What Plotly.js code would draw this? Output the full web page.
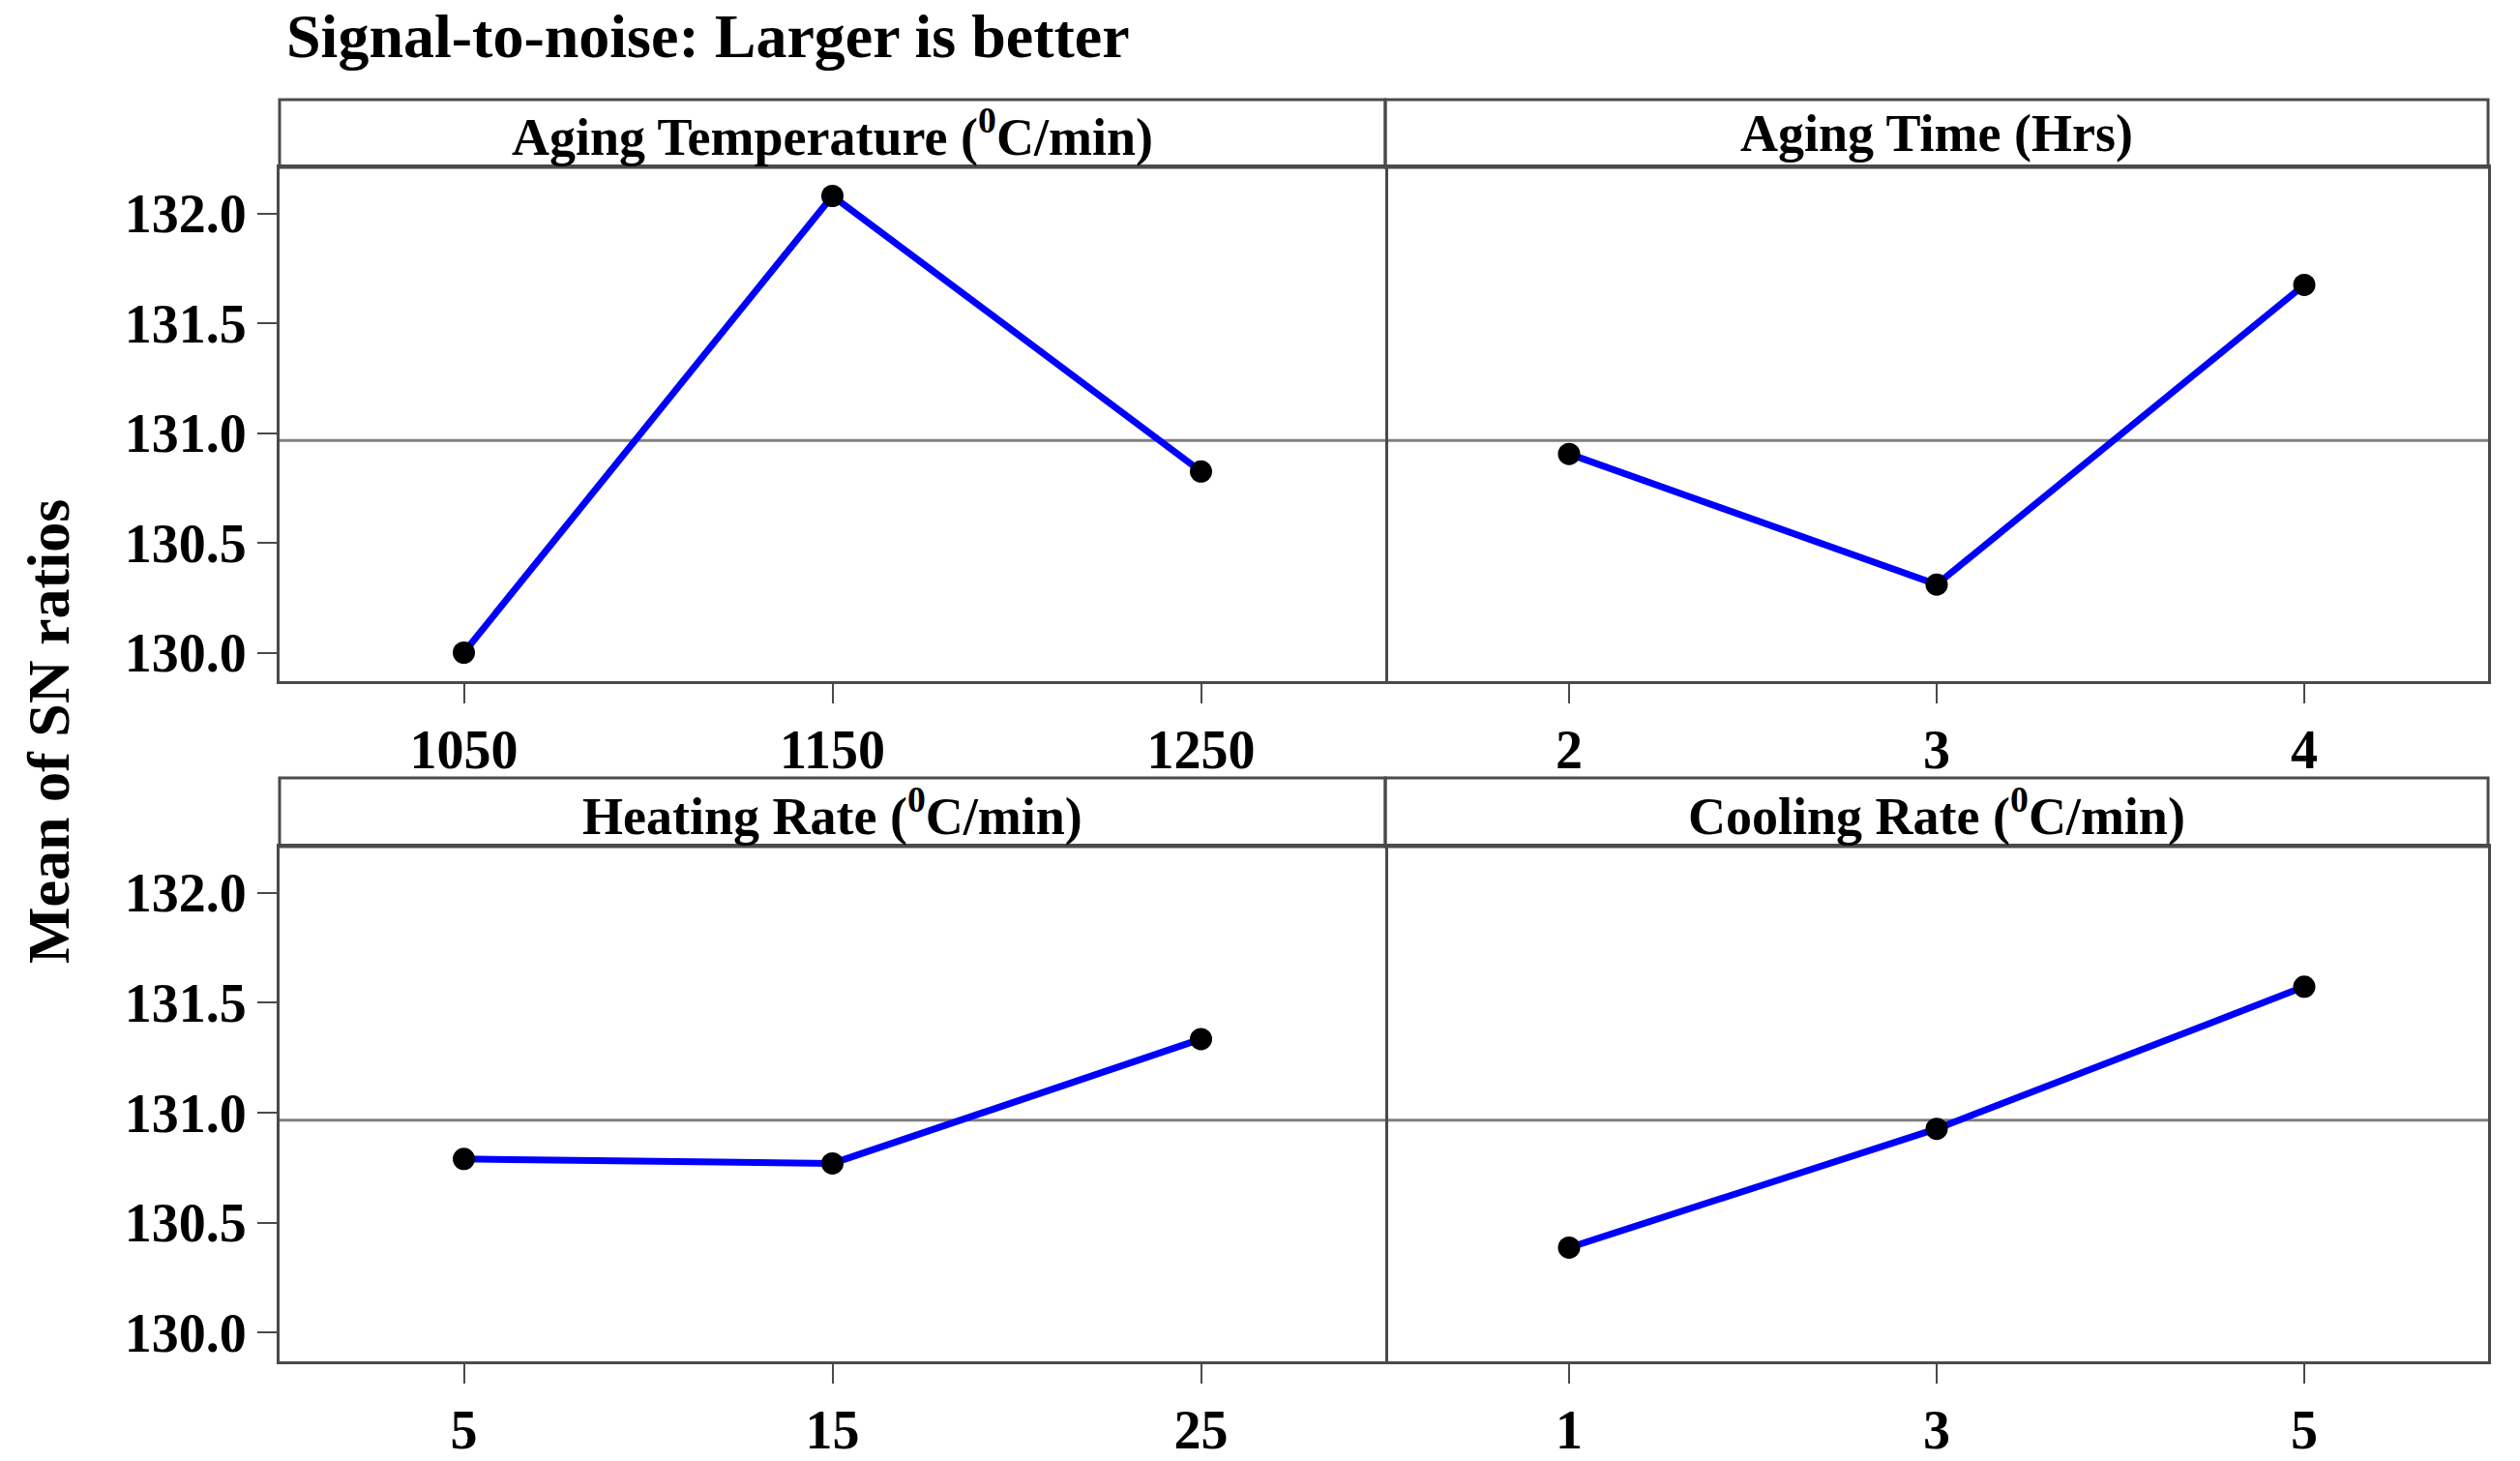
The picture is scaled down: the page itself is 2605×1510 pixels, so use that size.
<!DOCTYPE html>
<html>
<head>
<meta charset="utf-8">
<script src="https://cdn.plot.ly/plotly-3.0.1.min.js"></script>
<style>html,body{margin:0;padding:0;background:#fff;}#chart{width:2605px;height:1510px;}</style>
</head>
<body>
<div id="chart"></div>
<script>
// ---- data ----
var panelTitles = ['Aging Temperature (<sup>0</sup>C/min)', 'Aging Time (Hrs)', 'Heating Rate (<sup>0</sup>C/min)', 'Cooling Rate (<sup>0</sup>C/min)'];
var agingTempLevels = ['1050', '1150', '1250'];
var agingTempSN = [130.00, 132.08, 130.825];
var agingTimeLevels = ['2', '3', '4'];
var agingTimeSN = [130.905, 130.31, 131.675];
var heatingRateLevels = ['5', '15', '25'];
var heatingRateSN = [130.79, 130.77, 131.335];
var coolingRateLevels = ['1', '3', '5'];
var coolingRateSN = [130.387, 130.927, 131.573];
var grandMeanSN = 130.966;
var yTickVals = [130.0, 130.5, 131.0, 131.5, 132.0];
var chartTitle = 'Signal-to-noise: Larger is better';
var yTitle = 'Mean of SN ratios';

// ---- layout ----
var W = 2605, H = 1510;
var FONT = 'Liberation Serif, Times New Roman, serif';
function px(x) { return x / W; }
function py(y) { return 1 - y / H; }

var colL = [px(289), px(1432)], colR = [px(1432), px(2572)];
var rowT = [py(704), py(173)], rowB = [py(1407), py(875)];
var stripT = [py(173), py(103)], stripB = [py(875), py(804)];

var levels = [agingTempLevels, agingTimeLevels, heatingRateLevels, coolingRateLevels];
var values = [agingTempSN, agingTimeSN, heatingRateSN, coolingRateSN];
var xDomains = [colL, colR, colL, colR];
var yDomains = [rowT, rowT, rowB, rowB];
var sDomains = [stripT, stripT, stripB, stripB];

var traces = [];
var layout = {
  width: W, height: H,
  margin: {l: 0, r: 0, t: 0, b: 0},
  paper_bgcolor: '#ffffff', plot_bgcolor: '#ffffff',
  showlegend: false,
  font: {family: FONT, color: '#000', size: 56},
  title: {text: '<b>' + chartTitle + '</b>', x: px(296), xanchor: 'left', xref: 'paper',
          y: py(37), yanchor: 'middle', yref: 'container', font: {family: FONT, size: 64, color: '#000'}},
  shapes: [], annotations: []
};

for (var i = 0; i < 4; i++) {
  var n = i === 0 ? '' : String(i + 1);
  traces.push({
    type: 'scatter', mode: 'lines+markers',
    x: levels[i], y: values[i],
    xaxis: 'x' + n, yaxis: 'y' + n,
    line: {color: '#0000ff', width: 7},
    marker: {color: '#000000', size: 23},
    hoverinfo: 'skip'
  });
  var leftCol = (i % 2 === 0);
  layout['xaxis' + n] = {
    domain: xDomains[i], anchor: 'y' + n, type: 'category',
    range: [-0.5, 2.5], showgrid: false, zeroline: false,
    showline: true, mirror: true, linecolor: '#4a4a4a', linewidth: 3,
    ticks: 'outside', ticklen: 20, tickwidth: 2, tickcolor: '#4a4a4a',
    tickfont: {family: FONT, size: 56, color: '#000', weight: 'bold'},
    fixedrange: true
  };
  layout['yaxis' + n] = {
    domain: yDomains[i], anchor: 'x' + n,
    side: leftCol ? 'left' : 'right',
    range: [129.87, 132.21], showgrid: false, zeroline: false,
    showline: true, mirror: leftCol, linecolor: '#4a4a4a', linewidth: 3,
    tickvals: yTickVals, tickformat: '.1f',
    ticks: leftCol ? 'outside' : '', ticklen: 20, tickwidth: 2, tickcolor: '#4a4a4a',
    showticklabels: leftCol,
    tickfont: {family: FONT, size: 56, color: '#000', weight: 'bold'},
    fixedrange: true
  };
  // grand mean reference line
  layout.shapes.push({
    type: 'line', xref: 'x' + n + ' domain', yref: 'y' + n,
    x0: 0, x1: 1, y0: grandMeanSN, y1: grandMeanSN,
    line: {color: '#808080', width: 3}, layer: 'below'
  });
  // strip box
  layout.shapes.push({
    type: 'rect', xref: 'paper', yref: 'paper',
    x0: xDomains[i][0], x1: xDomains[i][1], y0: sDomains[i][0], y1: sDomains[i][1],
    line: {color: '#4a4a4a', width: 3}, fillcolor: 'rgba(0,0,0,0)'
  });
  layout.annotations.push({
    xref: 'paper', yref: 'paper',
    x: (xDomains[i][0] + xDomains[i][1]) / 2, y: (sDomains[i][0] + sDomains[i][1]) / 2,
    xanchor: 'center', yanchor: 'middle', showarrow: false,
    text: '<b>' + panelTitles[i] + '</b>',
    font: {family: FONT, size: 54, color: '#000'}
  });
}

layout.annotations.push({
  xref: 'paper', yref: 'paper', x: px(50), y: py(756),
  xanchor: 'center', yanchor: 'middle', showarrow: false, textangle: -90,
  text: '<b>' + yTitle + '</b>',
  font: {family: FONT, size: 62, color: '#000'}
});

Plotly.newPlot('chart', traces, layout, {staticPlot: true, displayModeBar: false});
</script>
</body>
</html>
